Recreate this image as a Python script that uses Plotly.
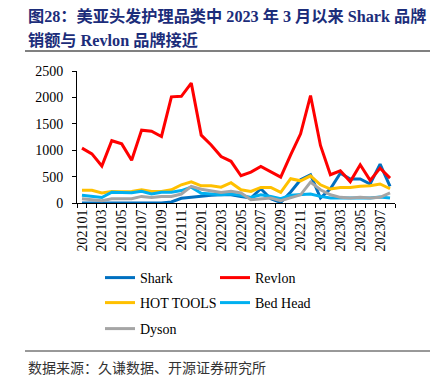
import plotly.graph_objects as go

months = ["202101","202102","202103","202104","202105","202106","202107","202108","202109","202110","202111","202112",
          "202201","202202","202203","202204","202205","202206","202207","202208","202209","202210","202211","202212",
          "202301","202302","202303","202304","202305","202306","202307","202308"]

shark = [0,0,0,0,0,0,0,0,0,20,90,110,130,145,155,155,125,95,270,80,10,210,440,535,95,270,565,455,455,360,735,315]
revlon = [1040,930,700,1180,1120,810,1380,1360,1260,2010,2020,2270,1285,1100,880,790,516,585,693,585,490,913,1310,2035,1090,535,610,405,724,428,660,472]
hot_tools = [240,240,190,220,215,220,250,220,220,250,345,400,325,325,300,385,250,220,295,295,200,460,420,515,345,265,295,295,315,325,360,270]
bed_head = [145,125,105,205,195,195,220,170,205,205,235,300,185,170,157,170,145,105,155,125,80,145,155,170,125,95,95,95,95,95,115,95]
dyson = [80,65,45,80,80,80,125,105,125,125,170,315,260,230,200,220,190,63,80,95,44,105,155,395,250,155,107,94,107,94,107,190]

series = [
    ("Shark", shark, "#0070C0", "legend"),
    ("Revlon", revlon, "#FF0000", "legend"),
    ("HOT TOOLS", hot_tools, "#FFC000", "legend2"),
    ("Bed Head", bed_head, "#00B0F0", "legend2"),
    ("Dyson", dyson, "#A5A5A5", "legend3"),
]

y_ticks = [0, 500, 1000, 1500, 2000, 2500]
x_labels = [m if i % 2 == 0 else "" for i, m in enumerate(months)]

# page body has an 8px margin; work in window pixels and convert
OX, OY = 8, 8
W, H = 438 - OX, 376 - OY
AX_L, AX_R, AX_T, AX_B = 77, 395, 71, 203   # plot area in window pixels
L, R, T, B = AX_L - OX, 438 - AX_R, AX_T - OY, 376 - AX_B
PW, PH = AX_R - AX_L, AX_B - AX_T

def px(x):
    return (x - AX_L) / PW

def py(y):
    return (AX_B - y) / PH

SERIF = "Liberation Serif"
CJK = "Liberation Serif, Noto Sans CJK SC"

fig = go.Figure()
for name, vals, color, lg in series:
    fig.add_trace(go.Scatter(x=months, y=vals, name=name, mode="lines",
                             line=dict(color=color, width=3), legend=lg))

legend_common = dict(orientation="h", xanchor="left", yanchor="top",
                     font=dict(family=SERIF, size=14, color="#000"),
                     bgcolor="rgba(0,0,0,0)", entrywidth=70, entrywidthmode="pixels",
                     itemwidth=30, traceorder="normal")

fig.update_layout(
    width=W, height=H,
    margin=dict(l=L, r=R, t=T, b=B, autoexpand=False),
    paper_bgcolor="white", plot_bgcolor="white",
    showlegend=True,
    legend=dict(x=px(100), y=py(262), **legend_common),
    legend2=dict(x=px(100), y=py(287), **legend_common),
    legend3=dict(x=px(100), y=py(313), **legend_common),
    xaxis=dict(type="category", range=[-0.5, len(months) - 0.5],
               tickmode="array", tickvals=months, ticktext=x_labels,
               tickson="boundaries", ticks="outside", ticklen=4, tickcolor="#000",
               tickangle=-90, showline=True, linecolor="#000", linewidth=1,
               showgrid=False, zeroline=False,
               tickfont=dict(family=SERIF, size=14, color="#000")),
    yaxis=dict(range=[0, 2500], tickmode="array", tickvals=y_ticks,
               ticks="outside", ticklen=4, tickcolor="#000",
               showline=True, linecolor="#000", linewidth=1,
               showgrid=False, zeroline=False, ticklabelstandoff=6,
               tickfont=dict(family=SERIF, size=14, color="#000")),
)

title_color = "#1c2d7a"
fig.add_annotation(text="<b>图28：美亚头发护理品类中 2023 年 3 月以来 Shark 品牌</b>",
                   xref="paper", yref="paper", x=px(26), y=py(17), xanchor="left", yanchor="middle",
                   showarrow=False, font=dict(family=CJK, size=16.2, color=title_color))
fig.add_annotation(text="<b>销额与 Revlon 品牌接近</b>",
                   xref="paper", yref="paper", x=px(26), y=py(40), xanchor="left", yanchor="middle",
                   showarrow=False, font=dict(family=CJK, size=16.2, color=title_color))
fig.add_annotation(text="数据来源：久谦数据、开源证券研究所",
                   xref="paper", yref="paper", x=px(26), y=py(367), xanchor="left", yanchor="middle",
                   showarrow=False, font=dict(family="Noto Sans CJK SC", size=14, color="#333"))

fig.add_shape(type="line", xref="paper", yref="paper", x0=px(25), x1=px(438), y0=py(51), y1=py(51),
              line=dict(color="#808080", width=2))
fig.add_shape(type="line", xref="paper", yref="paper", x0=px(25), x1=px(438), y0=py(351), y1=py(351),
              line=dict(color="#333", width=1))

fig.write_html("out.html")
